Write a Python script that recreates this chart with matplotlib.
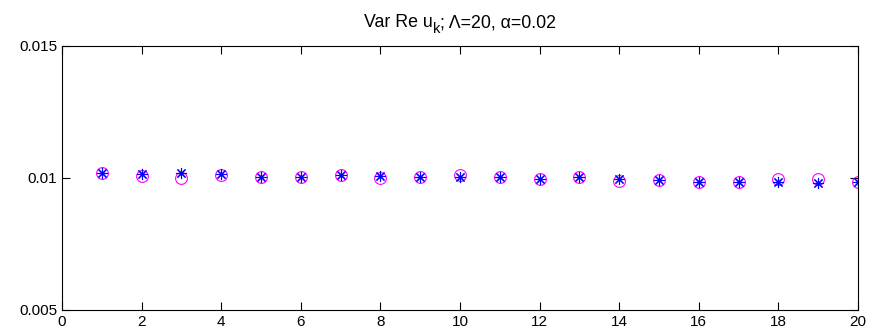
import matplotlib
matplotlib.use("Agg")
import matplotlib.pyplot as plt

plt.rcParams['font.family'] = ['Liberation Sans', 'DejaVu Sans']

# data
k = list(range(1, 21))
var_circle = [0.01017, 0.01006, 0.00998, 0.01010, 0.01004, 0.01001, 0.01010, 0.00998, 0.01001, 0.01010,
              0.01001, 0.00994, 0.01001, 0.00989, 0.00991, 0.00985, 0.00985, 0.00994, 0.00994, 0.00985]
var_star = [0.01017, 0.01014, 0.01019, 0.01014, 0.01004, 0.01004, 0.01010, 0.01006, 0.01001, 0.01004,
            0.01001, 0.00994, 0.01001, 0.00996, 0.00991, 0.00985, 0.00985, 0.00982, 0.00979, 0.00983]
xticks = list(range(0, 21, 2))
yticks = [0.005, 0.01, 0.015]
ytick_labels = ['0.005', '0.01', '0.015']
title_parts = ['Var Re u', 'k', '; \u039b=20, \u03b1=0.02']

fig = plt.figure(figsize=(8.73, 3.36), dpi=100)
ax = fig.add_axes([0.0710, 0.078, 0.9118, 0.7865])

ax.plot(k, var_circle, linestyle='none', marker='o', markersize=8.5,
        markerfacecolor='none', markeredgecolor='#ff00ff', markeredgewidth=0.8)
ax.plot(k, var_star, linestyle='none', marker=(8, 2, 0), markersize=8,
        color='blue', markeredgewidth=0.8)

ax.set_xlim(0, 20)
ax.set_ylim(0.005, 0.015)
ax.set_xticks(xticks)
ax.set_yticks(yticks)
ax.set_yticklabels(ytick_labels)
ax.tick_params(direction='in', top=True, right=True, length=6, labelsize=11, width=0.8)
for s in ax.spines.values():
    s.set_linewidth(0.8)

# title built from pieces so the subscript sits low like the original
fig.canvas.draw()
r = fig.canvas.get_renderer()
t1 = fig.text(0, 0, title_parts[0], fontsize=12.8)
t2 = fig.text(0, 0, title_parts[1], fontsize=10.5)
t3 = fig.text(0, 0, title_parts[2], fontsize=12.8)
w = [t.get_window_extent(r).width for t in (t1, t2, t3)]
total = sum(w)
x0 = (62 + 858) / 2 - total / 2
base = 336 - 27
t1.set_position((x0 / 873, base / 336))
t2.set_position(((x0 + w[0]) / 873, (base - 6) / 336))
t3.set_position(((x0 + w[0] + w[1]) / 873, base / 336))

fig.savefig('out.png', dpi=100)
